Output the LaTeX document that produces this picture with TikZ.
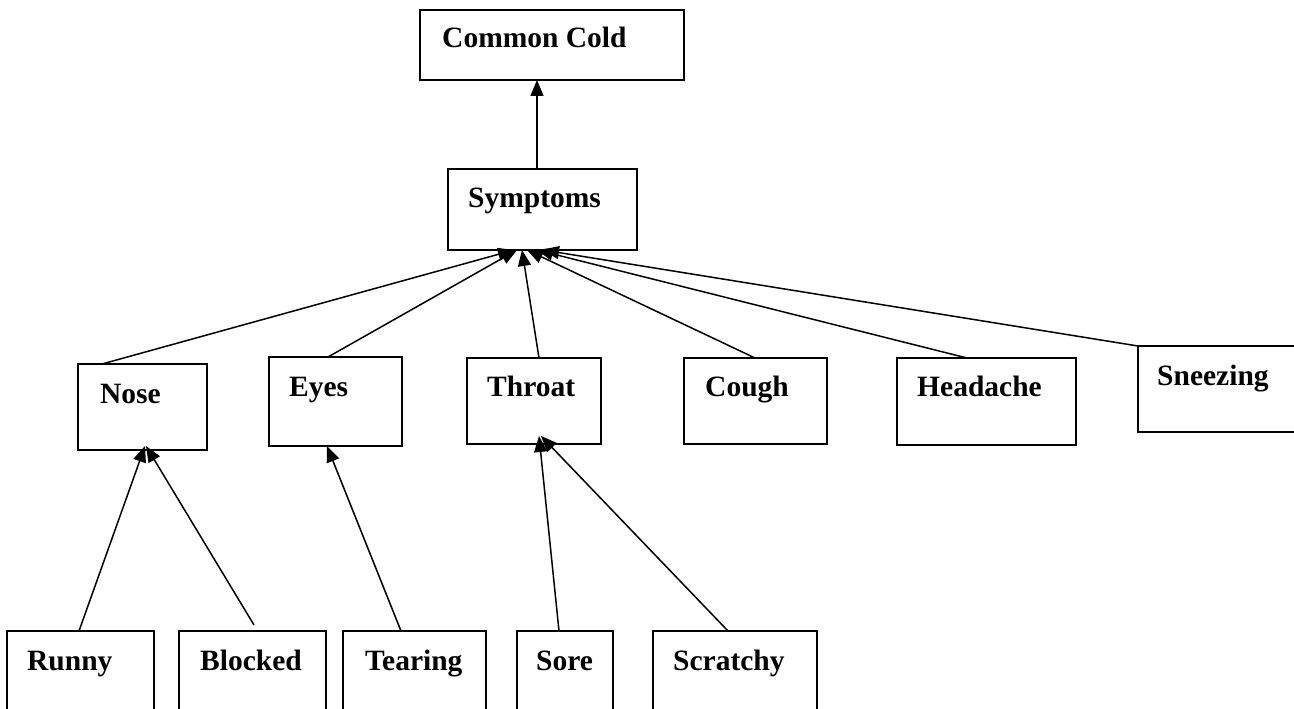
\documentclass[tikz,border=0pt]{standalone}
\usepackage{fontspec}
\setmainfont{Liberation Serif}
\usetikzlibrary{calc,arrows.meta}

% a framed box with its caption set near the top-left corner:
% name, left, top, right, bottom, caption, caption x, caption baseline y
\newcommand{\diagbox}[8]{%
  \node[box, minimum width={#4-#2}, minimum height={#5-#3}] (#1) at (#2,#3) {};
  \node[lbl] (#1-t) at (#7,#8) {#6};}

\begin{document}
\begin{tikzpicture}[x=1pt,y=-1pt,
  box/.style={draw, line width=1.8pt, inner sep=0pt, outer sep=0pt, anchor=north west},
  lbl/.style={anchor=base west, inner sep=0pt, font=\fontsize{29.5}{34}\selectfont\bfseries},
  link/.style={line width=1.5pt, -{Triangle[length=16pt,width=13pt]}}]
\clip (0,0) rectangle (1294,709);
\useasboundingbox (0,0) rectangle (1294,709);

% top levels
\diagbox{cold}{420}{10}{684}{80}{Common Cold}{442}{48}
\diagbox{sym}{448}{169}{637}{250}{Symptoms}{468}{207}

% symptom groups
\diagbox{nose}{78}{364}{207}{450}{Nose}{100}{403}
\diagbox{eyes}{269}{357}{402}{446}{Eyes}{289}{396}
\diagbox{throat}{467}{358}{601}{444}{Throat}{487}{396}
\diagbox{cough}{684}{358}{827}{444}{Cough}{705}{396}
\diagbox{headache}{897}{358}{1076}{445}{Headache}{917}{396}
\diagbox{sneezing}{1138}{346}{1310}{432}{Sneezing}{1157}{385}

% details
\diagbox{runny}{7}{631}{154}{725}{Runny}{27}{670}
\diagbox{blocked}{179}{631}{326}{725}{Blocked}{200}{670}
\diagbox{tearing}{343}{631}{486}{725}{Tearing}{365}{670}
\diagbox{sore}{517}{631}{613}{725}{Sore}{536}{670}
\diagbox{scratchy}{653}{631}{817}{725}{Scratchy}{673}{670}

% connectors
\draw[link] ($(sym.north west)+(89,0)$) -- ($(cold.south west)+(117,0)$);

\draw[link] ($(nose.north west)+(24,0)$) -- ($(sym.south west)+(66,0)$);
\draw[link] ($(eyes.north west)+(59,0)$) -- ($(sym.south west)+(69,0)$);
\draw[link] ($(throat.north west)+(72,0)$) -- ($(sym.south west)+(74,0)$);
\draw[link] ($(cough.north west)+(71,0)$) -- ($(sym.south west)+(79,0)$);
\draw[link] ($(headache.north west)+(70,0)$) -- ($(sym.south west)+(89,0)$);
\draw[link] (sneezing.north west) -- ($(sym.south west)+(95,0)$);

\draw[link] ($(runny.north west)+(72,0)$) -- ($(nose.south west)+(67,-4)$);
\draw[link] ($(blocked.north west)+(75,-6)$) -- ($(nose.south west)+(68,-4)$);
\draw[link] ($(tearing.north west)+(58,0)$) -- ($(eyes.south west)+(58,0)$);
\draw[link] ($(sore.north west)+(42,0)$) -- ($(throat.south west)+(72,-8)$);
\draw[link] ($(scratchy.north west)+(75,0)$) -- ($(throat.south west)+(74,-8)$);
\end{tikzpicture}
\end{document}
